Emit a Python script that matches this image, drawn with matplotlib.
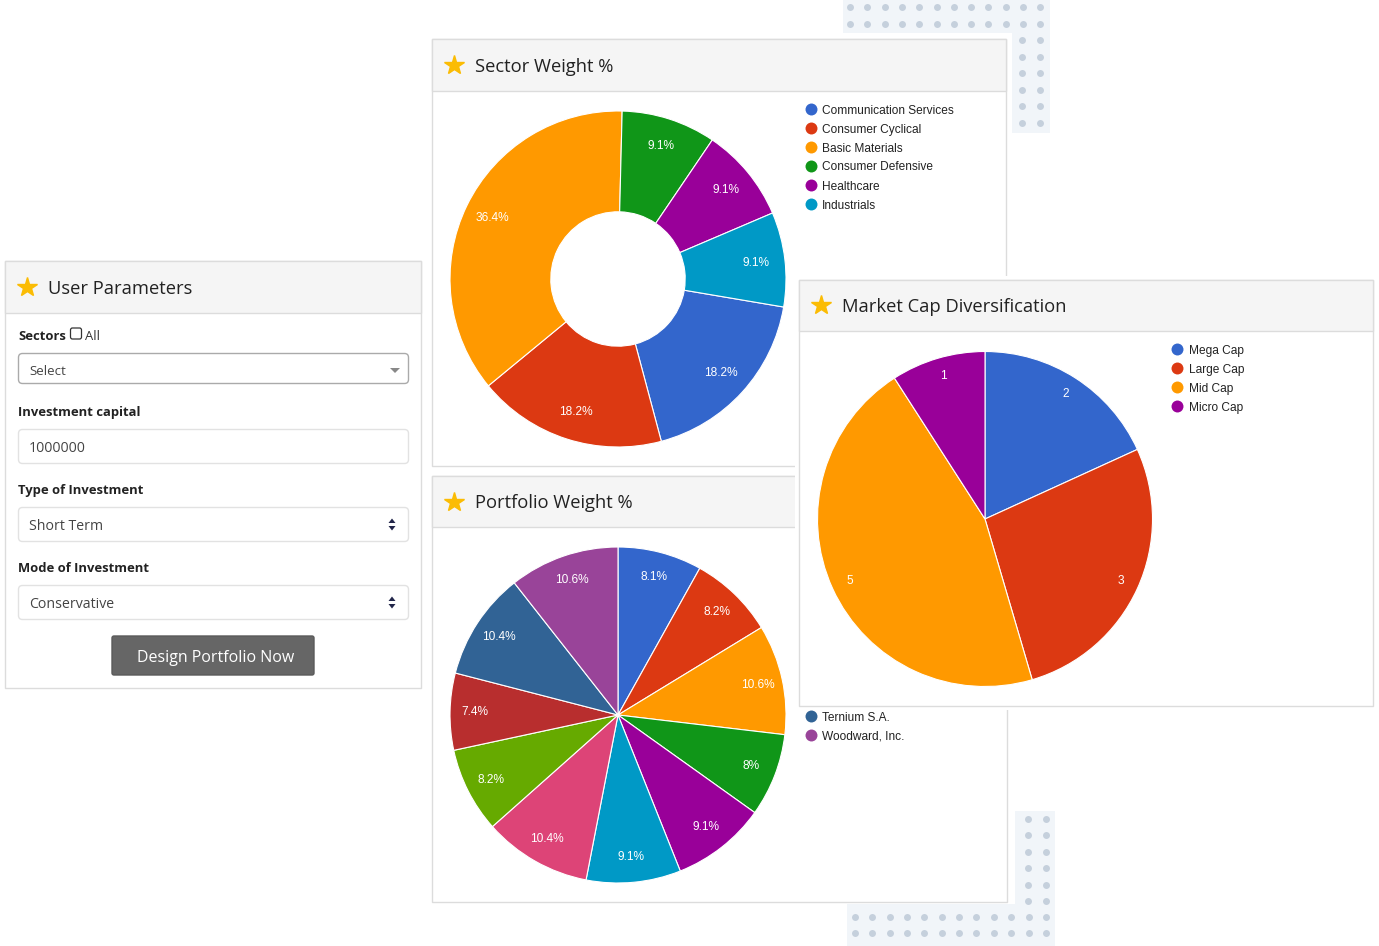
import numpy as np
import matplotlib
matplotlib.use("Agg")
import matplotlib.pyplot as plt
from matplotlib.patches import Rectangle, FancyBboxPatch, Polygon

# ============================================================================
# Data
# ============================================================================
sector_names = ["Communication Services", "Consumer Cyclical", "Basic Materials",
                "Consumer Defensive", "Healthcare", "Industrials"]
sector_weights = [18.2, 18.2, 36.4, 9.1, 9.1, 9.1]

portfolio_weights = [8.1, 8.2, 10.6, 8, 9.1, 9.1, 10.4, 8.2, 7.4, 10.4, 10.6]
portfolio_legend_visible = ["Ternium S.A.", "Woodward, Inc."]   # last two entries

cap_names = ["Mega Cap", "Large Cap", "Mid Cap", "Micro Cap"]
cap_counts = [2, 3, 5, 1]

form_labels = ["Investment capital", "Type of Investment", "Mode of Investment"]
form_values = ["1000000", "Short Term", "Conservative"]

google = ["#3366cc", "#dc3912", "#ff9900", "#109618", "#990099", "#0099c6",
          "#dd4477", "#66aa00", "#b82e2e", "#316395", "#994499"]
cap_colors = ["#3366cc", "#dc3912", "#ff9900", "#990099"]

# ============================================================================
# Figure / pixel canvas
# ============================================================================
W, H = 1379, 946
fig = plt.figure(figsize=(W / 100, H / 100), dpi=100)
fig.patch.set_facecolor("white")
bg = fig.add_axes([0, 0, 1, 1])
bg.set_xlim(0, W)
bg.set_ylim(H, 0)
bg.axis("off")

UI = "Open Sans"
CH = "Liberation Sans"
BORDER = "#dcdcdc"
HEAD = "#f5f5f5"
STAR = "#fbbc04"
DY = 1.5   # matplotlib centres on the full bbox, browsers a bit lower


def txt(x, y, s, **kw):
    kw.setdefault("va", "center")
    return bg.text(x, y + DY, s, **kw)


def panel(x0, y0, x1, y1, head_h, title, z, star_dx=22, title_dx=43):
    bg.add_patch(Rectangle((x0, y0), x1 - x0, y1 - y0, facecolor="white",
                           edgecolor=BORDER, lw=1, zorder=z))
    bg.add_patch(Rectangle((x0, y0), x1 - x0, head_h, facecolor=HEAD,
                           edgecolor=BORDER, lw=1, zorder=z))
    yc = y0 + head_h / 2
    bg.plot(x0 + star_dx, yc, marker="*", ms=15, color=STAR, zorder=z + 0.1)
    txt(x0 + title_dx, yc, title, fontsize=13.2, family=UI, color="#222",
        ha="left", zorder=z + 0.1)


def dots(xs, ys, z=0.5):
    xx, yy = np.meshgrid(xs, ys)
    bg.plot(xx.ravel(), yy.ravel(), "o", ms=5, color="#c5d0dc", mec="none", zorder=z)


# ---------------------------------------------------------------------------
# decorative dotted backgrounds
# ---------------------------------------------------------------------------
bg.add_patch(Rectangle((843, 0), 207, 33, facecolor="#f1f5f9", lw=0, zorder=0.2))
bg.add_patch(Rectangle((1012, 0), 38, 133, facecolor="#f1f5f9", lw=0, zorder=0.2))
dots(850 + 17.3 * np.arange(12), [7, 24])
dots([1022.3, 1040], 40 + 16.6 * np.arange(6))

bg.add_patch(Rectangle((1015, 811), 40, 135, facecolor="#f1f5f9", lw=0, zorder=0.2))
bg.add_patch(Rectangle((847, 904), 208, 42, facecolor="#f1f5f9", lw=0, zorder=0.2))
dots([1028, 1046], 819 + 16.4 * np.arange(6))
dots(855 + 17.35 * np.arange(12), [917, 933])

# ---------------------------------------------------------------------------
# User Parameters panel
# ---------------------------------------------------------------------------
panel(5, 261, 421, 688, 52, "User Parameters", 1)
txt(18, 335, "Sectors", fontsize=9.4, family=UI, weight="bold", color="#222", zorder=2)
bg.add_patch(FancyBboxPatch((70.5, 328), 11, 11, boxstyle="round,pad=0,rounding_size=2",
                            facecolor="white", edgecolor="#333", lw=0.9, zorder=2))
txt(85, 335, "All", fontsize=9.4, family=UI, color="#333", zorder=2)

# select2 style box
bg.add_patch(FancyBboxPatch((18.5, 353.5), 390, 30, boxstyle="round,pad=0,rounding_size=4",
                            facecolor="white", edgecolor="#aaa", lw=1, zorder=2))
txt(29, 370, "Select", fontsize=9.6, family=UI, color="#444", zorder=2)
bg.add_patch(Polygon([[390, 368], [400, 368], [395, 373]], closed=True,
                     facecolor="#888", lw=0, zorder=2))

label_y = [411, 489, 567]
box_y = [429, 507, 585]
for i, (lab, val) in enumerate(zip(form_labels, form_values)):
    txt(18, label_y[i], lab, fontsize=9.4, family=UI, weight="bold", color="#222", zorder=2)
    bg.add_patch(FancyBboxPatch((18.5, box_y[i] + 0.5), 390, 34,
                                boxstyle="round,pad=0,rounding_size=4",
                                facecolor="white", edgecolor="#e2e2e2", lw=1, zorder=2))
    txt(29, box_y[i] + 17.5, val, fontsize=10.2, family=UI, color="#444", zorder=2)
    if i > 0:
        yc = box_y[i] + 17.5
        bg.add_patch(Polygon([[388.5, yc - 1.5], [395.5, yc - 1.5], [392, yc - 6]],
                             closed=True, facecolor="#22264a", lw=0, zorder=2))
        bg.add_patch(Polygon([[388.5, yc + 1.5], [395.5, yc + 1.5], [392, yc + 6]],
                             closed=True, facecolor="#22264a", lw=0, zorder=2))

bg.add_patch(FancyBboxPatch((112, 636), 202, 39, boxstyle="round,pad=0,rounding_size=2",
                            facecolor="#666666", edgecolor="#5a5a5a", lw=1, zorder=2))
txt(216, 656, "Design Portfolio Now", fontsize=11.5, family=UI, color="white",
    ha="center", zorder=3)

# ---------------------------------------------------------------------------
# Sector / Portfolio panels
# ---------------------------------------------------------------------------
panel(432, 39, 1006, 466, 52, "Sector Weight %", 1)
panel(432, 476, 1007, 902, 51, "Portfolio Weight %", 3)

for i, name in enumerate(sector_names):
    y = 109 + 19 * i
    bg.plot(811, y, "o", ms=8.6, color=google[i], mec="none", zorder=2)
    txt(822, y, name, fontsize=8.6, family=CH, color="#222", zorder=2)

n_port = len(portfolio_weights)
for j, name in enumerate(portfolio_legend_visible):
    k = n_port - len(portfolio_legend_visible) + j
    y = 545 + 19 * k
    bg.plot(811, y, "o", ms=8.6, color=google[k], mec="none", zorder=4)
    txt(822, y, name, fontsize=8.6, family=CH, color="#222", zorder=4)

# ---------------------------------------------------------------------------
# Market Cap panel (on top)
# ---------------------------------------------------------------------------
bg.add_patch(Rectangle((795, 276), 582, 434, facecolor="white", lw=0, zorder=5))
panel(799, 280, 1373, 706, 51, "Market Cap Diversification", 6)
for i, name in enumerate(cap_names):
    y = 349 + 19 * i
    bg.plot(1177, y, "o", ms=8.6, color=cap_colors[i], mec="none", zorder=7)
    txt(1189, y, name, fontsize=8.6, family=CH, color="#222", zorder=7)


# ============================================================================
# Pies
# ============================================================================
def pie_axes(cx, cy, r):
    ax = fig.add_axes([(cx - r) / W, 1 - (cy + r) / H, 2 * r / W, 2 * r / H])
    ax.set_facecolor("none")
    return ax


def draw_pie(ax, values, labels, colors, start, dist, width=None):
    wp = dict(edgecolor="white", linewidth=0.8, clip_on=False)
    if width is not None:
        wp["width"] = width
    wedges, texts = ax.pie(values, labels=labels, colors=colors,
                           startangle=start, counterclock=False, labeldistance=dist,
                           wedgeprops=wp, radius=1)
    for t in texts:
        t.set_ha("center")
        t.set_va("center")
        t.set_color("white")
        t.set_fontsize(8.6)
        t.set_family(CH)
    ax.set_xlim(-1, 1)
    ax.set_ylim(-1, 1)
    ax.set_aspect("equal")
    ax.axis("off")


ax1 = pie_axes(618, 279, 168)
draw_pie(ax1, sector_weights, [f"{v:g}%" for v in sector_weights], google,
         -9.6, 0.83, width=0.6)

ax2 = pie_axes(618, 715, 168)
draw_pie(ax2, portfolio_weights, [f"{v:g}%" for v in portfolio_weights], google, 90, 0.85)

ax3 = pie_axes(985, 519, 167.5)
draw_pie(ax3, cap_counts, [str(v) for v in cap_counts], cap_colors, 90, 0.89)

fig.savefig("out.png", dpi=100, facecolor="white")
